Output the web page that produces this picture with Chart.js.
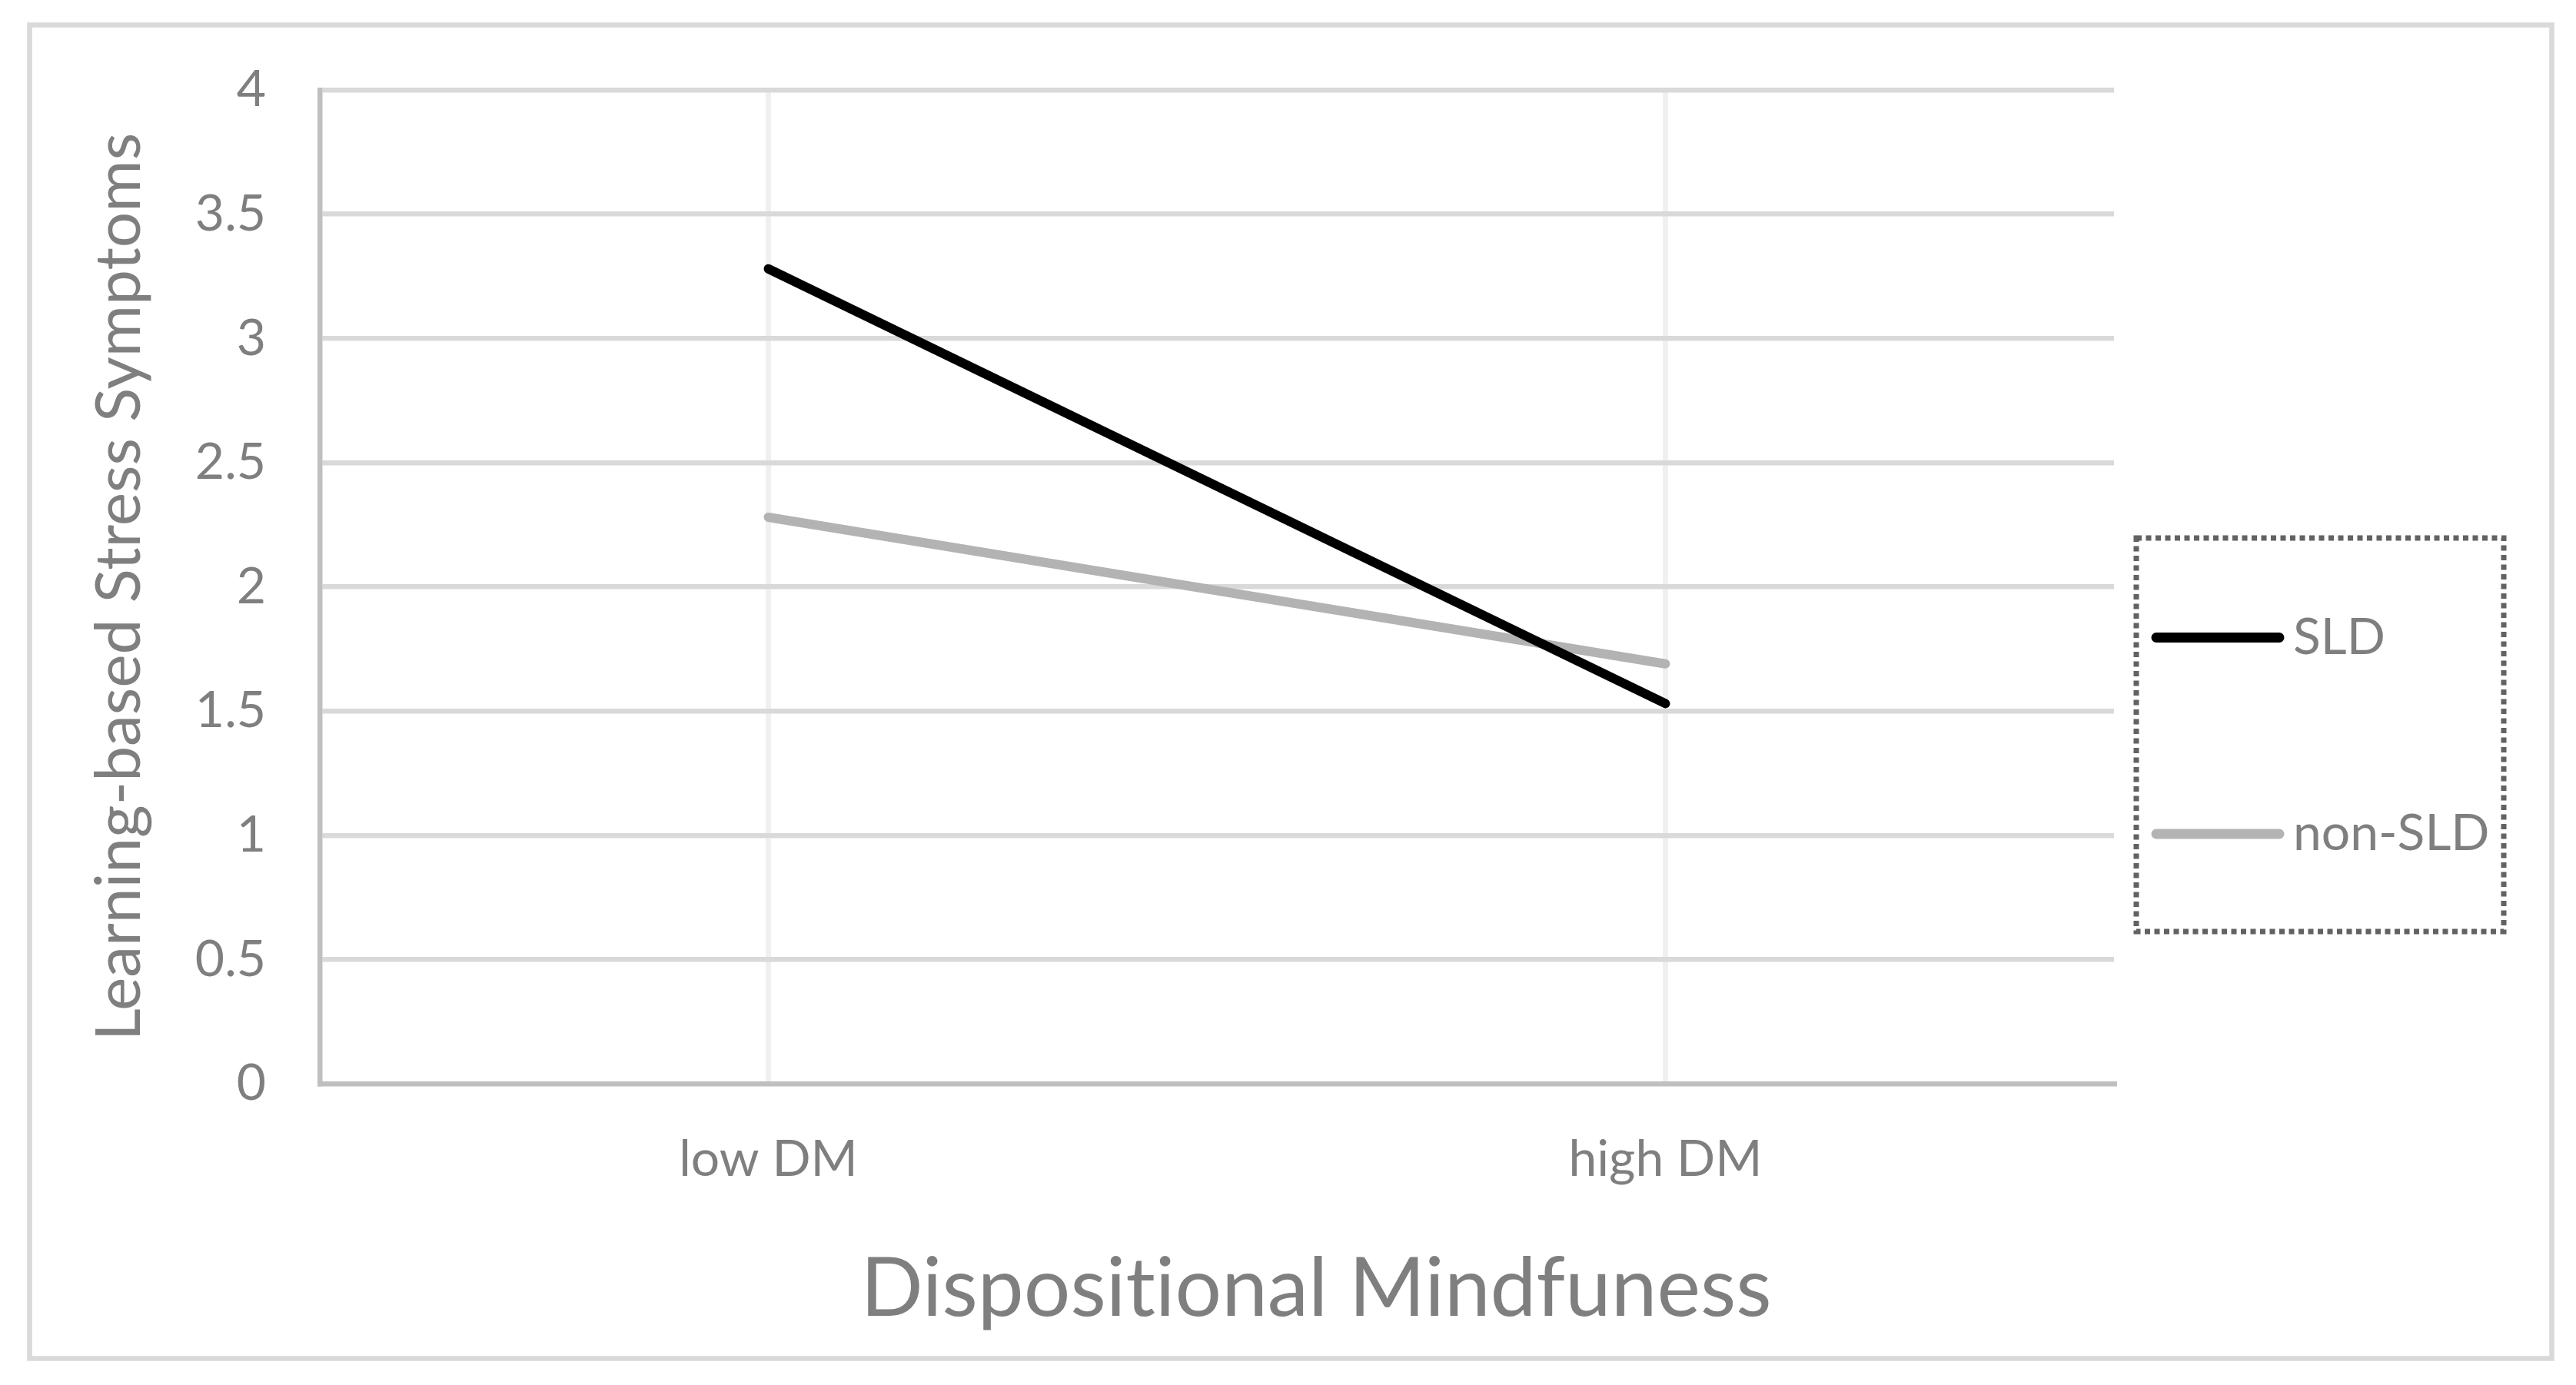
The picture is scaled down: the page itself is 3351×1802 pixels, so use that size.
<!DOCTYPE html>
<html>
<head>
<meta charset="utf-8">
<title>Learning-based Stress Symptoms</title>
<script src="https://cdn.jsdelivr.net/npm/chart.js@4.4.1/dist/chart.umd.min.js"></script>
<style>
  html, body { margin: 0; padding: 0; background: #ffffff; }
  #myChart { display: block; }
</style>
</head>
<body>
<canvas id="myChart" width="3351" height="1802"></canvas>
<script>
// chart data
const categories = ['low DM', 'high DM'];
const seriesNames = ['SLD', 'non-SLD'];
const sldValues = [3.28, 1.53];
const nonSldValues = [2.28, 1.69];
const yTickLabels = ['0', '0.5', '1', '1.5', '2', '2.5', '3', '3.5', '4'];
const xTitle = 'Dispositional Mindfuness';
const yTitle = 'Learning-based Stress Symptoms';

const textGray = '#7f7f7f';
const fontName = 'Lato';

// outer frame, x axis title and the dotted legend box
const framePlugin = {
    id: 'framePlugin',
    beforeDraw(chart) {
        // no ligatures (the "ti" in Lato)
        chart.ctx.textRendering = 'optimizeSpeed';
    },
    afterDraw(chart) {
        const ctx = chart.ctx;
        ctx.save();
        ctx.textRendering = 'optimizeSpeed';

        // outer frame
        ctx.strokeStyle = '#d9d9d9';
        ctx.lineWidth = 6.5;
        ctx.strokeRect(38.5, 32.5, 3281, 1735);

        // x axis title
        ctx.fillStyle = textGray;
        ctx.font = '107px ' + fontName;
        ctx.textAlign = 'center';
        ctx.textBaseline = 'alphabetic';
        ctx.fillText(xTitle, 1712, 1712);

        // legend box
        ctx.setLineDash([7, 5.5]);
        ctx.strokeStyle = '#626262';
        ctx.lineWidth = 7;
        ctx.strokeRect(2779, 700, 478, 512);
        ctx.setLineDash([]);

        const rows = [829.5, 1085];
        chart.data.datasets.forEach((ds, i) => {
            ctx.strokeStyle = ds.borderColor;
            ctx.lineWidth = 13;
            ctx.lineCap = 'round';
            ctx.beginPath();
            ctx.moveTo(2805, rows[i]);
            ctx.lineTo(2965, rows[i]);
            ctx.stroke();

            ctx.fillStyle = textGray;
            ctx.font = '66px ' + fontName;
            ctx.textAlign = 'left';
            ctx.textBaseline = 'middle';
            ctx.fillText(ds.label, 2983, rows[i]);
        });
        ctx.restore();
    }
};

const ctx = document.getElementById('myChart');

const myChart = new Chart(ctx.getContext('2d'), {
    type: 'line',
    data: {
        labels: categories,
        datasets: [{
            label: seriesNames[0],
            data: sldValues,
            borderColor: '#000000',
            backgroundColor: '#000000',
            borderWidth: 12,
            borderCapStyle: 'round',
            borderJoinStyle: 'round',
            pointRadius: 0,
            fill: false,
            tension: 0
        }, {
            label: seriesNames[1],
            data: nonSldValues,
            borderColor: '#b3b3b3',
            backgroundColor: '#b3b3b3',
            borderWidth: 12,
            borderCapStyle: 'round',
            borderJoinStyle: 'round',
            pointRadius: 0,
            fill: false,
            tension: 0
        }]
    },
    options: {
        responsive: false,
        animation: false,
        devicePixelRatio: 1,
        layout: {
            padding: { left: 0, top: 117, right: 601, bottom: 0 }
        },
        plugins: {
            legend: { display: false },
            tooltip: { enabled: false }
        },
        scales: {
            x: {
                offset: true,
                grid: { offset: false, color: '#f0f0f0', lineWidth: 7, drawTicks: false },
                border: { color: '#bfbfbf', width: 6.5 },
                ticks: {
                    color: textGray,
                    font: { family: fontName, size: 66 },
                    padding: 59
                },
                afterFit: (scale) => { scale.height = 392; }
            },
            y: {
                min: 0,
                max: 4,
                grid: {
                    color: (c) => (c.tick && c.tick.value === 0) ? 'rgba(0,0,0,0)' : '#d9d9d9',
                    lineWidth: 6.5,
                    drawTicks: false
                },
                border: { color: '#bfbfbf', width: 6.5 },
                ticks: {
                    stepSize: 0.5,
                    color: textGray,
                    font: { family: fontName, size: 66 },
                    padding: 70,
                    callback: (value, index) => yTickLabels[index]
                },
                title: {
                    display: true,
                    text: yTitle,
                    color: textGray,
                    font: { family: fontName, size: 82 },
                    padding: { top: 106, bottom: 0 }
                },
                afterFit: (scale) => { scale.width = 416; }
            }
        }
    },
    plugins: [framePlugin]
});
</script>
</body>
</html>
